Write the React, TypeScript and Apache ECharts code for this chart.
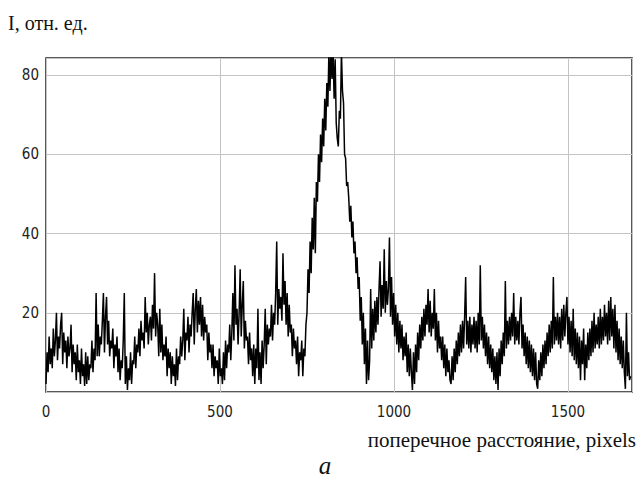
import React, { useEffect, useRef } from "react";
import * as echarts from "echarts";

// Step along the x axis between samples (pixels)
const xStep = 3;

// Intensity, rel. units (one sample every 3 px)
const intensity: number[] = [
  2, 10, 5, 14, 7, 11, 6, 16, 9, 13,
  20, 8, 14, 11, 17, 20, 7, 15, 10, 13,
  6, 14, 9, 11, 17, 5, 12, 7, 10, 3,
  12, 5, 8, 2, 11, 4, 7, 1.5, 10, 2,
  9, 3, 7, 6, 13, 5, 11, 8, 25, 9,
  17, 9, 14, 12, 18, 25, 10, 19, 24, 12,
  18, 9, 13, 11, 16, 6, 12, 9, 14, 5,
  11, 3, 8, 6, 13, 25, 2, 9, 0.5, 6,
  3, 10, 2, 8, 7, 14, 6, 12, 10, 16,
  9, 18, 13, 15, 11, 24, 15, 20, 12, 17,
  19, 13, 22, 16, 30, 14, 20, 17, 9, 21,
  10, 17, 8, 12, 9, 14, 4, 11, 6, 10,
  2, 9, 4, 7, 1.5, 11, 3, 9, 7, 14,
  9, 13, 21, 8, 15, 13, 19, 10, 17, 14,
  20, 25, 12, 21, 26, 15, 23, 17, 24, 14,
  22, 13, 19, 15, 17, 8, 15, 10, 12, 6,
  12, 4, 9, 6, 8, 2, 11, 4, 6, 2,
  10, 3, 13, 6, 12, 10, 17, 8, 15, 25,
  13, 32, 17, 21, 12, 20, 31, 14, 22, 28,
  11, 18, 13, 14, 7, 15, 8, 11, 4, 12,
  2, 11, 6, 21, 3, 10, 2, 13, 6, 12,
  21, 7, 17, 12, 16, 14, 22, 13, 20, 17,
  25, 38, 17, 26, 21, 24, 18, 35, 22, 28,
  17, 25, 14, 22, 15, 17, 9, 16, 11, 13,
  7, 14, 4, 10, 8, 13, 4, 11, 9, 17,
  20, 31, 25, 38, 30, 44, 36, 49, 35, 53,
  48, 60, 53, 65, 58, 69, 62, 74, 66, 78,
  72, 86, 76, 86, 79, 86, 74, 84, 68, 64,
  62, 71, 69, 86, 76, 73, 60, 59, 52, 53,
  49, 43, 47, 39, 43, 35, 38, 30, 34, 26,
  29, 18, 24, 12, 20, 7, 16, 2, 13, 3,
  8, 26, 11, 21, 13, 23, 15, 24, 17, 26,
  33, 19, 27, 21, 36, 20, 28, 22, 26, 39,
  19, 29, 17, 25, 14, 22, 12, 20, 10, 18,
  11, 17, 8, 14, 9, 15, 5, 12, 4, 11,
  5, 0.5, 10, 2, 12, 5, 15, 8, 17, 11,
  19, 13, 21, 14, 22, 17, 26, 15, 23, 14,
  20, 16, 26, 13, 20, 10, 18, 11, 14, 8,
  14, 6, 12, 4, 11, 5, 8, 3, 2, 9,
  3, 11, 5, 13, 7, 15, 9, 17, 10, 18,
  11, 19, 29, 12, 18, 11, 19, 10, 17, 12,
  19, 11, 18, 10, 20, 12, 32, 13, 19, 11,
  17, 9, 15, 7, 14, 6, 12, 5, 11, 3,
  9, 2, 10, 0.5, 11, 4, 13, 7, 15, 9,
  28, 11, 18, 12, 19, 13, 20, 14, 25, 12,
  19, 13, 18, 12, 20, 24, 11, 17, 9, 15,
  7, 14, 6, 13, 5, 12, 4, 11, 3, 10,
  2, 0.8, 8, 3, 10, 4, 12, 6, 13, 7,
  15, 9, 17, 10, 18, 11, 29, 12, 19, 13,
  20, 12, 19, 11, 21, 13, 22, 14, 20, 24,
  12, 19, 10, 18, 9, 21, 8, 16, 7, 15,
  6, 14, 3, 13, 7, 16, 3, 12, 6, 15,
  8, 16, 9, 18, 10, 20, 11, 17, 12, 19,
  11, 21, 12, 19, 13, 22, 14, 20, 12, 23,
  13, 24, 14, 21, 11, 22, 10, 18, 8, 16,
  7, 14, 6, 13, 5, 0.8, 20, 4, 10, 3,
  4,
];

const xTicks = [0, 500, 1000, 1500];
const yTicks = [20, 40, 60, 80];

const yTitle = "I, отн. ед.";
const xTitle = "поперечное расстояние, pixels";
const panelLabel = "a";

const tickFont = "'Liberation Sans Narrow', 'DejaVu Sans Condensed', sans-serif";
const serif = "'Liberation Serif', 'Times New Roman', 'DejaVu Serif', serif";

export default function App() {
  const ref = useRef<HTMLDivElement>(null);

  useEffect(() => {
    if (!ref.current) return;
    const chart = echarts.init(ref.current, null, { renderer: "svg" });
    const data = intensity.map((v, i) => [i * xStep, v]);
    chart.setOption({
      animation: false,
      backgroundColor: "#ffffff",
      grid: {
        left: 46,
        right: 6,
        top: 58,
        bottom: 85,
        show: true,
        borderColor: "#222",
        borderWidth: 1.5,
        backgroundColor: "transparent",
      },
      xAxis: {
        type: "value",
        min: 0,
        max: 1684,
        interval: 500,
        axisLine: { show: false },
        axisTick: { show: false },
        splitLine: { show: true, lineStyle: { color: "#c4c4c4", width: 1 } },
        axisLabel: {
          showMaxLabel: false,
          margin: 12,
          fontSize: 15,
          color: "#222",
          fontFamily: tickFont,
          formatter: (v: number) => (xTicks.includes(v) ? String(v) : ""),
        },
      },
      yAxis: {
        type: "value",
        min: 0,
        max: 84.3,
        interval: 20,
        axisLine: { show: false },
        axisTick: { show: false },
        splitLine: { show: true, lineStyle: { color: "#c4c4c4", width: 1 } },
        axisLabel: {
          showMaxLabel: false,
          margin: 7,
          fontSize: 15,
          color: "#222",
          fontFamily: tickFont,
          formatter: (v: number) => (yTicks.includes(v) ? String(v) : ""),
        },
      },
      series: [
        {
          type: "line",
          data,
          showSymbol: false,
          symbol: "none",
          clip: true,
          lineStyle: { color: "#000", width: 1.5 },
        },
      ],
      graphic: [
        {
          type: "text",
          x: 8,
          y: 23,
          style: {
            text: yTitle,
            fontSize: 20,
            fontFamily: serif,
            fill: "#111",
            textVerticalAlign: "middle",
          },
        },
        {
          type: "text",
          x: 636,
          y: 440,
          style: {
            text: xTitle,
            fontSize: 21,
            fontFamily: serif,
            fill: "#111",
            textAlign: "right",
            textVerticalAlign: "middle",
          },
        },
        {
          type: "text",
          x: 325,
          y: 465,
          style: {
            text: panelLabel,
            fontSize: 25,
            fontStyle: "italic",
            fontFamily: serif,
            fill: "#111",
            textAlign: "center",
            textVerticalAlign: "middle",
          },
        },
      ],
    });
    return () => chart.dispose();
  }, []);

  return (
    <div
      ref={ref}
      style={{ position: "absolute", left: 0, top: 0, width: 638, height: 477 }}
    />
  );
}
